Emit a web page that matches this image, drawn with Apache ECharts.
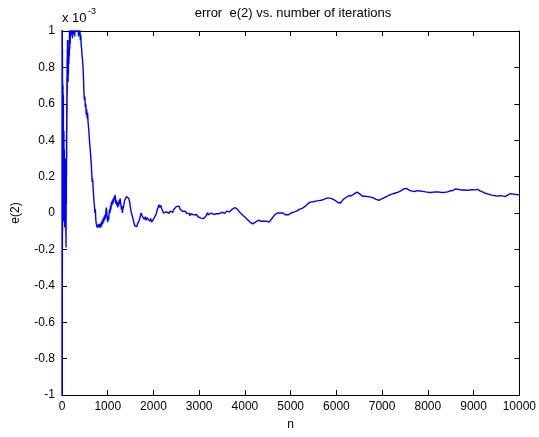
<!DOCTYPE html>
<html>
<head>
<meta charset="utf-8">
<script src="https://cdn.jsdelivr.net/npm/echarts@6/dist/echarts.min.js"></script>
<style>html,body{margin:0;padding:0;background:#fff}#c{width:539px;height:437px}</style>
</head>
<body>
<div id="c"></div>
<script>
// Chart text
var titleText = 'error  e(2) vs. number of iterations';
var xName = 'n';
var yName = 'e(2)';
var yScaleText = 'x 10';
var yScaleExp = '-3';
// Axis ticks
var xTicks = [0,1000,2000,3000,4000,5000,6000,7000,8000,9000,10000];
var yTicks = [-1,-0.8,-0.6,-0.4,-0.2,0,0.2,0.4,0.6,0.8,1];
// Series: iteration n and error e(2) in units of 1e-3
var nEarly = [0,2,4,6,8,10,12,14,16,18,20,22,24,26,28,30,32,34,36,38,40,42,44,46,48,50,52,54,56,58,60,62,64,66,68,70,72,74,76,78,80,82,84,86,88,90,92,94,96,98,100,102,104,106,108,110,112,114,116,118,120,124,128,132,136,140,145,150,155,160,165,170,175,180,185,190,196,202,208,215,222,230,238,246,254,262,270,280,290,300,310,320,330,340,350,360,370,380,390,400,410,420,430,440,450,460,470,480,490,500,510,520,530,540,550,560,570,580,590,600,610,620,630,640,650,660,670,680,690,700,710,720,730,740,750,760,770,780,790,800,810,820,830,840,850,860,870,880,890,900,910,920,930,940,950,960,970,980,990];
var eEarly = [-1.6,1.5,-0.8,1.2,-0.3,0.9,-0.1,0.72,0.0,0.6,0.12,0.7,-0.05,0.5,0.2,0.65,0.05,0.4,-0.02,0.3,0.1,0.45,0.0,0.28,0.08,0.35,-0.04,0.2,0.05,0.27,-0.08,0.15,0.02,0.25,0.05,0.3,-0.03,0.18,0.0,0.22,-0.06,0.12,-0.12,0.05,-0.19,0.0,0.15,0.05,0.3,0.2,0.45,0.3,0.6,0.45,0.75,0.55,0.85,0.65,0.9,0.75,0.95,0.78,0.85,0.72,0.82,0.76,0.9,0.82,0.95,0.86,1.02,0.9,1.05,0.93,1.1,0.97,1.08,0.98,1.12,1.0,1.1,0.96,1.05,0.98,1.15,1.02,1.1,0.97,1.08,1.0,1.12,1.03,1.1,1.0,1.06,0.97,1.04,0.98,1.02,0.95,0.98,0.92,0.9,0.86,0.84,0.8,0.74,0.66,0.62,0.64,0.58,0.6,0.54,0.57,0.52,0.55,0.5,0.47,0.44,0.4,0.37,0.34,0.33,0.27,0.22,0.17,0.19,0.14,0.1,0.06,0.04,0.0,0.02,-0.04,-0.06,-0.05,-0.08,-0.07,-0.09,-0.06,-0.08,-0.07,-0.09,-0.06,-0.08,-0.05,-0.07,-0.04,-0.06,-0.03,-0.05,-0.02,-0.04,-0.01,-0.03,0.01,0.03,0.0,-0.03];
var nMid = [1000,1010,1020,1030,1040,1050,1060,1070,1080,1090,1100,1110,1120,1130,1140,1150,1160,1170,1180,1190,1200,1210,1220,1230,1240,1250,1260,1270,1280,1290,1300,1310,1320,1330,1340,1350,1360,1370,1380,1390,1400,1410,1420,1430,1440,1450,1460,1470,1480,1490,1500,1510,1520,1530,1540,1550,1560,1570,1580,1590,1600,1610,1620,1630,1640,1650,1660,1670,1680,1690,1700,1710,1720,1730,1740,1750,1760,1770,1780,1790];
var eMid = [-0.05,-0.02,-0.04,0.0,0.02,0.0,0.04,0.02,0.06,0.04,0.07,0.05,0.08,0.06,0.09,0.07,0.1,0.08,0.05,0.07,0.04,0.06,0.03,0.06,0.04,0.07,0.05,0.08,0.06,0.04,0.02,0.04,0.0,0.02,0.01,0.04,0.05,0.07,0.06,0.08,0.07,0.09,0.08,0.095,0.085,0.09,0.08,0.07,0.06,0.04,0.03,0.01,0.02,-0.01,0.0,-0.03,-0.04,-0.05,-0.06,-0.07,-0.06,-0.075,-0.08,-0.07,-0.075,-0.06,-0.065,-0.05,-0.055,-0.04,-0.03,-0.02,-0.01,0.0,-0.01,0.005,-0.02,-0.01,-0.03,-0.02];
var nNoisy = [1800,1820,1840,1860,1880,1900,1920,1940,1960,1980,2000,2020,2040,2060,2080,2100,2120,2140,2160,2180,2200,2220,2240,2260,2280,2300,2320,2340,2360,2380,2400,2420,2440,2460,2480,2500,2520,2540,2560,2580,2600,2620,2640,2660,2680,2700,2720,2740,2760,2780,2800,2820,2840,2860,2880,2900,2920,2940,2960,2980,3000,3020,3040,3060,3080,3100,3120,3140,3160,3180,3200,3220,3240,3260,3280,3300,3320,3340,3360,3380,3400,3420,3440,3460,3480,3500,3520,3540,3560,3580,3600,3620,3640,3660,3680,3700,3720,3740,3760,3780,3800,3820,3840,3860,3880,3900,3920,3940,3960,3980,4000];
var eNoisy = [-0.035,-0.02,-0.04,-0.025,-0.035,-0.03,-0.045,-0.03,-0.05,-0.04,-0.045,-0.025,-0.015,-0.005,0.015,0.025,0.045,0.03,0.042,0.025,0.012,0.0,0.008,-0.005,0.006,-0.004,0.008,-0.002,0.01,0.0,0.012,0.003,0.018,0.028,0.02,0.035,0.042,0.028,0.038,0.022,0.018,0.024,0.008,0.015,0.002,0.01,-0.002,0.006,-0.008,-0.002,-0.015,-0.004,-0.012,-0.002,-0.01,-0.005,-0.018,-0.008,-0.015,-0.022,-0.012,-0.02,-0.028,-0.02,-0.035,-0.03,-0.038,-0.02,-0.012,0.002,-0.01,-0.002,-0.012,0.0,-0.01,0.002,-0.008,-0.002,-0.012,-0.004,-0.01,0.002,-0.004,0.006,-0.002,0.004,-0.006,0.006,-0.002,0.004,0.01,0.003,0.012,0.006,0.014,0.012,0.02,0.018,0.026,0.03,0.035,0.028,0.02,0.012,0.005,0.0,-0.004,-0.01,-0.008,-0.018,-0.022];
var nLate = [4020,4050,4080,4110,4140,4170,4200,4230,4260,4290,4320,4350,4380,4410,4440,4470,4500,4530,4560,4590,4620,4650,4680,4710,4740,4770,4800,4830,4860,4890,4920,4950,4980,5010,5040,5070,5100,5130,5160,5190,5220,5250,5280,5310,5340,5370,5400,5430,5460,5490,5520,5550,5580,5610,5640,5670,5700,5730,5760,5790,5820,5850,5880,5910,5940,5970,6000,6030,6060,6090,6120,6150,6180,6210,6240,6270,6300,6330,6360,6390,6420,6450,6480,6510,6540,6570,6600,6630,6660,6690,6720,6750,6780,6810,6840,6870,6900,6930,6960,6990,7020,7050,7080,7110,7140,7170,7200,7230,7260,7290,7320,7350,7380,7410,7440,7470,7500,7530,7560,7590,7620,7650,7680,7710,7740,7770,7800,7830,7860,7890,7920,7950,7980,8010,8040,8070,8100,8130,8160,8190,8220,8250,8280,8310,8340,8370,8400,8430,8460,8490,8520,8550,8580,8610,8640,8670,8700,8730,8760,8790,8820,8850,8880,8910,8940,8970,9000,9030,9060,9090,9120,9150,9180,9210,9240,9270,9300,9330,9360,9390,9420,9450,9480,9510,9540,9570,9600,9630,9660,9690,9720,9750,9780,9810,9840,9870,9900,9930,9960,10000];
var eLate = [-0.025,-0.035,-0.04,-0.05,-0.055,-0.06,-0.055,-0.05,-0.045,-0.04,-0.04,-0.045,-0.04,-0.045,-0.05,-0.045,-0.05,-0.05,-0.04,-0.03,-0.02,-0.01,0.0,0.0,-0.005,0.0,0.005,0.0,-0.005,-0.01,-0.015,-0.01,-0.005,0.0,0.0,0.005,0.005,0.01,0.015,0.02,0.03,0.025,0.03,0.035,0.04,0.05,0.055,0.06,0.058,0.062,0.06,0.065,0.062,0.068,0.065,0.07,0.07,0.075,0.078,0.082,0.08,0.082,0.08,0.078,0.074,0.07,0.065,0.058,0.052,0.055,0.065,0.075,0.08,0.085,0.09,0.095,0.09,0.095,0.1,0.105,0.11,0.115,0.11,0.105,0.095,0.092,0.09,0.092,0.088,0.09,0.085,0.087,0.082,0.083,0.08,0.075,0.072,0.07,0.074,0.078,0.082,0.085,0.09,0.092,0.095,0.1,0.102,0.105,0.108,0.11,0.112,0.115,0.118,0.122,0.128,0.132,0.137,0.135,0.13,0.126,0.124,0.12,0.122,0.118,0.12,0.123,0.118,0.121,0.116,0.119,0.114,0.116,0.112,0.114,0.11,0.113,0.111,0.115,0.112,0.116,0.112,0.115,0.111,0.113,0.11,0.114,0.112,0.116,0.118,0.122,0.128,0.124,0.13,0.132,0.136,0.13,0.128,0.126,0.129,0.126,0.128,0.125,0.128,0.126,0.13,0.128,0.13,0.127,0.132,0.13,0.125,0.12,0.118,0.115,0.11,0.107,0.106,0.104,0.1,0.098,0.1,0.096,0.095,0.093,0.092,0.095,0.098,0.094,0.097,0.09,0.095,0.1,0.103,0.106,0.1,0.104,0.098,0.102,0.097,0.1];

var nValues = nEarly.concat(nMid, nNoisy, nLate);
var eValues = eEarly.concat(eMid, eNoisy, eLate);
var seriesData = nValues.map(function (n, i) { return [n, eValues[i]]; });

var chart = echarts.init(document.getElementById('c'), null, {renderer: 'canvas'});
var FONT = 'Liberation Sans, Arial, Helvetica, sans-serif';
var axisCommon = {
  axisLine: {show: true, onZero: false, lineStyle: {color: '#000', width: 1}},
  axisTick: {show: true, inside: true, length: 5, lineStyle: {color: '#000'}},
  splitLine: {show: false}
};
function xAx(pos, showLabel) {
  return Object.assign({}, axisCommon, {
    type: 'value', position: pos, min: xTicks[0], max: xTicks[xTicks.length - 1],
    interval: xTicks[1] - xTicks[0],
    axisLabel: {show: showLabel, color: '#000', fontSize: 12, fontFamily: FONT, margin: 6,
      formatter: function (v) { return String(v); }},
    name: showLabel ? xName : '', nameLocation: 'middle', nameGap: 24,
    nameTextStyle: {color: '#000', fontSize: 12, fontFamily: FONT}
  });
}
function yAx(pos, showLabel) {
  return Object.assign({}, axisCommon, {
    type: 'value', position: pos, min: yTicks[0], max: yTicks[yTicks.length - 1],
    interval: 0.2,
    axisLabel: {show: showLabel, color: '#000', fontSize: 12, fontFamily: FONT, margin: 7,
      formatter: function (v) { return String(Math.round(v * 10) / 10); }},
    name: showLabel ? yName : '', nameLocation: 'middle', nameGap: 40, nameRotate: 90,
    nameTextStyle: {color: '#000', fontSize: 12, fontFamily: FONT}
  });
}
chart.setOption({
  animation: false,
  backgroundColor: '#fff',
  grid: {left: 62, right: 17, top: 31, bottom: 42, containLabel: false},
  xAxis: [xAx('bottom', true), xAx('top', false)],
  yAxis: [yAx('left', true), yAx('right', false)],
  graphic: [
    {type: 'text', x: 293, y: 7, style: {text: titleText, fill: '#000', font: '13px ' + FONT, textAlign: 'center'}},
    {type: 'text', left: 62, top: 12, style: {text: yScaleText, fill: '#000', font: '13px ' + FONT}},
    {type: 'text', left: 88, top: 7, style: {text: yScaleExp, fill: '#000', font: '9px ' + FONT}}
  ],
  series: [{
    type: 'line', xAxisIndex: 0, yAxisIndex: 0, data: seriesData,
    showSymbol: false, clip: true,
    lineStyle: {color: '#0000ff', width: 1.4}
  }]
});
</script>
</body>
</html>
